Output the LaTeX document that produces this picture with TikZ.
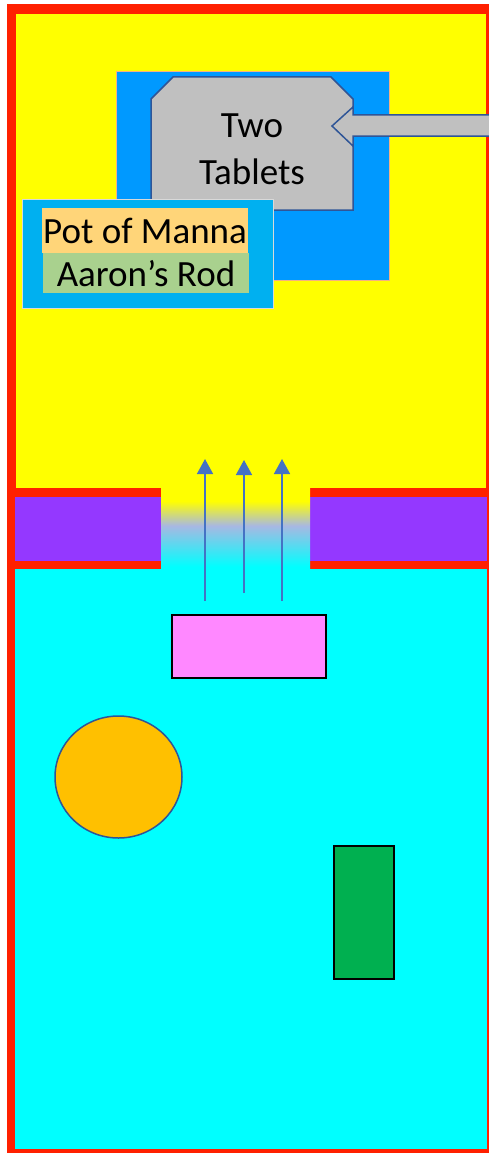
\documentclass[tikz,border=0pt]{standalone}
\usepackage{fontspec}
\setmainfont{Carlito}
\usetikzlibrary{arrows.meta,shapes.geometric}
\definecolor{redb}{HTML}{FF2000}
\definecolor{yel}{HTML}{FFFF00}
\definecolor{purp}{HTML}{9438FF}
\definecolor{cyanb}{HTML}{00FFFF}
\definecolor{blueb}{HTML}{0099FF}
\definecolor{lblue}{HTML}{00B0F0}
\definecolor{orhl}{HTML}{FFD579}
\definecolor{grhl}{HTML}{A9D18E}
\definecolor{grayf}{HTML}{C0C0C0}
\definecolor{outl}{HTML}{2F5597}
\definecolor{pinkf}{HTML}{FF88FF}
\definecolor{orf}{HTML}{FFC000}
\definecolor{grf}{HTML}{00B050}
\definecolor{arr}{HTML}{4472C4}
\definecolor{lav}{HTML}{A8B8E2}
\definecolor{peach}{HTML}{F4B183}
\pgfdeclareverticalshading{gapshade}{100bp}{color(0bp)=(cyanb); color(27bp)=(cyanb); color(52bp)=(lav); color(67bp)=(yel); color(100bp)=(yel)}
\tikzset{
  box/.style={draw=black, line width=2pt, inner sep=0pt, anchor=north west},
  lbl/.style={font=\fontsize{37}{46}\selectfont, inner sep=0pt, anchor=base},
  hl/.style={inner sep=0pt, anchor=north west},
  uparrow/.style={draw=arr, line width=1.6pt, -{Triangle[width=16pt,length=15pt]}},
}
\begin{document}
\begin{tikzpicture}[x=1pt,y=-1pt]
\useasboundingbox (0,0) rectangle (489,1153);
% outer frame
\fill[redb] (7,4) rectangle (489,1153);
\fill[yel] (16,14) rectangle (486,488);
\fill[purp] (15,497) rectangle (487,561);
\fill[cyanb] (15,569) rectangle (487,1149);
% gap with gradient
\shade[shading=gapshade] (161,488) rectangle (310,570);
\fill[yel] (161,455) rectangle (310,488.5);
% arrows through the gap
\coordinate (a1s) at (205,601); \coordinate (a1e) at (205,459);
\coordinate (a2s) at (244,593); \coordinate (a2e) at (244,460);
\coordinate (a3s) at (282,601); \coordinate (a3e) at (282,459);
\draw[uparrow] (a1s) -- (a1e);
\draw[uparrow] (a2s) -- (a2e);
\draw[uparrow] (a3s) -- (a3e);
% ark contents
\node[hl, fill=blueb, draw=peach, line width=0.8pt, minimum width=273pt, minimum height=209pt] (ark) at (116,71) {};
\draw[fill=grayf, draw=outl, line width=1.5pt] (151,99) -- (173,77) -- (331,77) -- (353,99) -- (353,210) -- (151,210) -- cycle;
\draw[fill=grayf, draw=outl, line width=1.5pt] (490,115) -- (353,115) -- (353,107) -- (332,126) -- (353,146) -- (353,136) -- (490,136);
\node[lbl] (two) at (252,138) {Two};
\node[lbl] (tablets) at (252,184) {Tablets};
\node[hl, fill=lblue, draw=black!15, line width=0.8pt, minimum width=251pt, minimum height=109pt] (pot) at (22,199) {};
\node[hl, fill=orhl, minimum width=206pt, minimum height=45pt] (pmbg) at (42,208) {};
\node[hl, fill=grhl, minimum width=206pt, minimum height=40pt] (arbg) at (43,253) {};
\node[lbl] (manna) at (145,243) {Pot of Manna};
\node[lbl] (rod) at (146,286) {Aaron’s Rod};
% court objects
\node[box, fill=pinkf, minimum width=154pt, minimum height=63pt] (altar) at (171,614) {};
\node[draw=outl, line width=1.5pt, fill=orf, ellipse, minimum width=127pt, minimum height=122pt, inner sep=0pt] (laver) at (118.5,777) {};
\node[box, fill=grf, minimum width=60pt, minimum height=133pt] (table) at (333,845) {};
\end{tikzpicture}
\end{document}
